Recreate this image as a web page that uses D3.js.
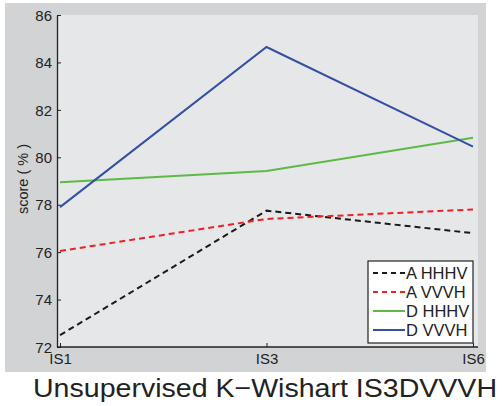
<!DOCTYPE html>
<html>
<head>
<meta charset="utf-8">
<script src="https://cdn.jsdelivr.net/npm/d3@7"></script>
<style>
  body { margin: 0; background: #fff; }
  svg { display: block; font-family: "Liberation Sans", Arial, sans-serif; }
</style>
</head>
<body>
<svg id="chart" width="502" height="406"></svg>
<script>
// --------------------------
// DATA
// --------------------------
const categories = ["IS1", "IS3", "IS6"];
const yTicks = [72, 74, 76, 78, 80, 82, 84, 86];

const aHHHV = [72.5, 77.75, 76.8];
const aVVVH = [76.05, 77.4, 77.8];
const dHHHV = [78.95, 79.42, 80.82];
const dVVVH = [77.9, 84.65, 80.45];

const series = [
    { name: "A HHHV", values: aHHHV, color: "#1a1a1a", dash: "6,4" },
    { name: "A VVVH", values: aVVVH, color: "#ee2024", dash: "6,4" },
    { name: "D HHHV", values: dHHHV, color: "#5fb946", dash: null },
    { name: "D VVVH", values: dVVVH, color: "#3350a3", dash: null }
];

// --------------------------
// CHART
// --------------------------
const svg = d3.select("#chart");

// outer gray panel
svg.append("rect")
    .attr("x", 5).attr("y", 3)
    .attr("width", 481).attr("height", 369)
    .attr("fill", "#d2d3d5");

const plot = { left: 57, right: 478, top: 15, bottom: 347 };

// plot area
svg.append("rect")
    .attr("x", plot.left).attr("y", plot.top)
    .attr("width", plot.right - plot.left).attr("height", plot.bottom - plot.top)
    .attr("fill", "#e6e7e9");

const x = d3.scalePoint()
    .domain(categories)
    .range([60, 473]);

const y = d3.scaleLinear()
    .domain([72, 86])
    .range([plot.bottom, plot.top]);

// y axis
const yAxis = svg.append("g")
    .attr("transform", `translate(${plot.left},0)`)
    .call(d3.axisLeft(y).tickValues(yTicks).tickSize(-4).tickPadding(5).tickSizeOuter(0));
yAxis.select(".domain").attr("stroke", "#222").attr("stroke-width", 1.3);
yAxis.selectAll(".tick line").attr("stroke", "#222");
yAxis.selectAll("text")
    .attr("font-size", 15).attr("fill", "#222")
    .attr("font-family", "Liberation Sans, Arial, sans-serif")
    .attr("dy", "0.35em");

// x axis
const xAxis = svg.append("g")
    .attr("transform", `translate(0,${plot.bottom})`)
    .call(d3.axisBottom(x).tickSize(-4).tickPadding(4).tickSizeOuter(0));
xAxis.select(".domain")
    .attr("d", `M${plot.left},0H${plot.right}`)
    .attr("stroke", "#222").attr("stroke-width", 1.3);
xAxis.selectAll(".tick line").attr("stroke", "#222");
xAxis.selectAll("text")
    .attr("font-size", 15).attr("fill", "#222")
    .attr("font-family", "Liberation Sans, Arial, sans-serif")
    .attr("dy", "0.85em");

// y label
svg.append("text")
    .attr("transform", "rotate(-90)")
    .attr("x", -179)
    .attr("y", 28)
    .attr("text-anchor", "middle")
    .attr("font-size", 14.5)
    .attr("fill", "#222")
    .text("score ( % )");

// lines
const line = d3.line()
    .x((d, i) => x(categories[i]))
    .y(d => y(d));

svg.append("g")
    .selectAll("path")
    .data(series)
    .enter()
    .append("path")
    .attr("d", d => line(d.values))
    .attr("fill", "none")
    .attr("stroke", d => d.color)
    .attr("stroke-width", 2)
    .attr("stroke-dasharray", d => d.dash);

// legend
const legend = svg.append("g").attr("transform", "translate(368,261)");
legend.append("rect")
    .attr("width", 105).attr("height", 82)
    .attr("fill", "#fff")
    .attr("stroke", "#222").attr("stroke-width", 1.2);

const item = legend.selectAll("g.item")
    .data(series)
    .enter()
    .append("g")
    .attr("class", "item")
    .attr("transform", (d, i) => `translate(0,${12 + i * 19})`);

item.append("line")
    .attr("x1", 5).attr("x2", 37)
    .attr("stroke", d => d.color)
    .attr("stroke-width", 2)
    .attr("stroke-dasharray", d => d.dash ? "5,4" : null);

item.append("text")
    .attr("x", 38)
    .attr("dy", "0.36em")
    .attr("font-size", 16.5)
    .attr("fill", "#222")
    .text(d => d.name);

// bottom title
svg.append("text")
    .attr("x", 33)
    .attr("y", 397)
    .attr("font-size", 26.5)
    .attr("textLength", 464)
    .attr("lengthAdjust", "spacingAndGlyphs")
    .attr("fill", "#222")
    .text("Unsupervised K\u2212Wishart IS3DVVVH");
</script>
</body>
</html>
